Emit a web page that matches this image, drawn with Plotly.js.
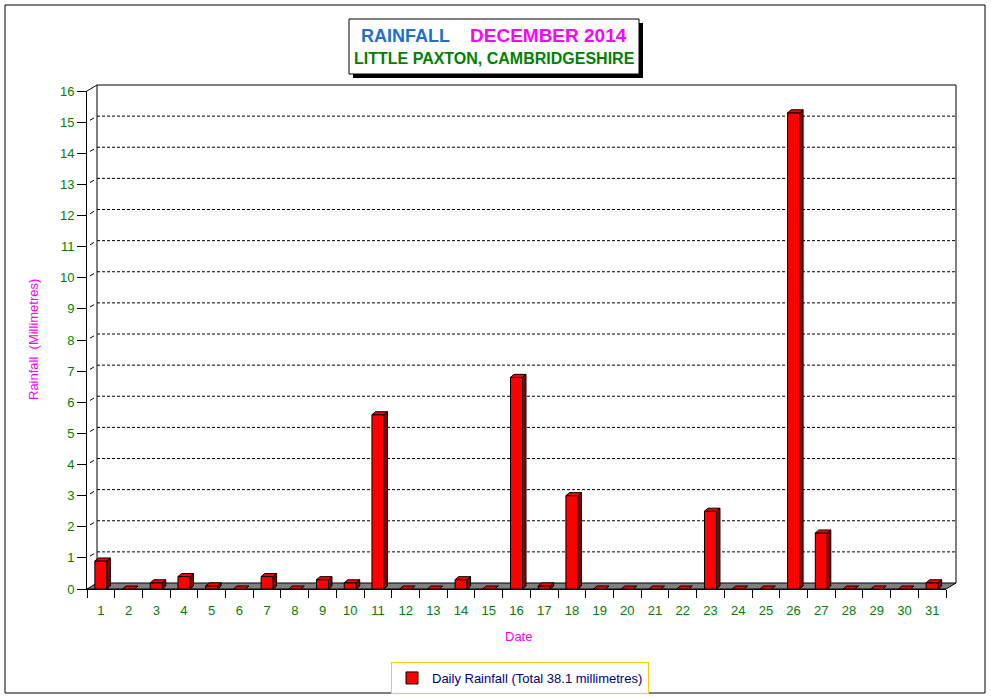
<!DOCTYPE html>
<html><head><meta charset="utf-8">
<script src="https://cdn.plot.ly/plotly-3.0.1.min.js"></script>
<style>html,body{margin:0;padding:0;background:#fff;overflow:hidden}</style>
</head><body><div id="chart" style="width:991px;height:698px"></div>
<script>
// ---- data ----
const days = [1,2,3,4,5,6,7,8,9,10,11,12,13,14,15,16,17,18,19,20,21,22,23,24,25,26,27,28,29,30,31];
const rainfall = [0.9,0,0.2,0.4,0.1,0,0.4,0,0.3,0.2,5.6,0,0,0.3,0,6.8,0.1,3.0,0,0,0,0,2.5,0,0,15.3,1.8,0,0,0,0.2];
const yTicks = [0,1,2,3,4,5,6,7,8,9,10,11,12,13,14,15,16];
const dayLabels = days.map(String);

// ---- geometry (pixels) ----
const W = 991, H = 698, L = 87, R = 946, T = 91, B = 589;
const PW = R - L, PH = B - T;
const xMin = 0.5, xMax = 31.5, yMax = 16;
const pxPerX = PW / (xMax - xMin), pxPerY = PH / yMax;
const DX = 10, DY = 6;          // wall depth
const BW = 12, BDX = 3.5, BDY = 3; // bar width and depth
const px2x = p => (p - L) / PW;
const px2y = p => (B - p) / PH;
const FONT = 'Liberation Sans, Arial, sans-serif';

const total = rainfall.reduce((a, b) => a + b, 0);

const shapes = [];
// outer border
shapes.push({type:'rect', xref:'paper', yref:'paper', x0:px2x(5), x1:px2x(985), y0:px2y(693), y1:px2y(5),
  line:{color:'#000', width:1}, layer:'below'});
// title box with shadow
shapes.push({type:'rect', xref:'paper', yref:'paper', x0:px2x(353), x1:px2x(643), y0:px2y(78), y1:px2y(23),
  line:{width:0}, fillcolor:'#000', layer:'below'});
shapes.push({type:'rect', xref:'paper', yref:'paper', x0:px2x(349), x1:px2x(639), y0:px2y(74), y1:px2y(19),
  line:{color:'#000', width:1}, fillcolor:'#fff', layer:'below'});
// back-wall gridlines (dashed)
yTicks.forEach(v => {
  if (v === 0 || v === yMax) return;
  const yy = v / yMax + DY / PH;
  shapes.push({type:'line', xref:'paper', yref:'paper', x0:px2x(L + DX), x1:px2x(R + DX), y0:yy, y1:yy,
    line:{color:'#000', width:1, dash:'3px,2px'}, layer:'below'});
  const y0 = v / yMax;
  shapes.push({type:'line', xref:'paper', yref:'paper', x0:px2x(L + 3), x1:px2x(L + 7), y0:y0 + 1.8/PH, y1:y0 + 4.2/PH,
    line:{color:'#000', width:1}, layer:'below'});
});
// wall frame
const wallPath = `M${px2x(L)},${px2y(T)} L${px2x(L+DX)},${px2y(T-DY)} L${px2x(R+DX)},${px2y(T-DY)} L${px2x(R+DX)},${px2y(B-DY)}` +
  ` M${px2x(L+DX)},${px2y(T-DY)} L${px2x(L+DX)},${px2y(B-DY)}`;
shapes.push({type:'path', xref:'paper', yref:'paper', path:wallPath, line:{color:'#000', width:1}, layer:'below'});
// floor
const floorPath = `M${px2x(L)},${px2y(B)} L${px2x(R)},${px2y(B)} L${px2x(R+DX)},${px2y(B-DY)} L${px2x(L+DX)},${px2y(B-DY)} Z`;
shapes.push({type:'path', xref:'paper', yref:'paper', path:floorPath, fillcolor:'#808080', line:{color:'#000', width:1}, layer:'below'});

// 3D faces of bars (from data)
const bw = BW / pxPerX, dx = BDX / pxPerX, dy = BDY / pxPerY;
days.forEach((d, i) => {
  const v = rainfall[i];
  const x0 = d - bw / 2, x1 = d + bw / 2;
  if (v > 0) {
    shapes.push({type:'path', xref:'x', yref:'y',
      path:`M${x1},0 L${x1+dx},${dy} L${x1+dx},${v+dy} L${x1},${v} Z`,
      fillcolor:'#8B0000', line:{color:'#000', width:1}, layer:'above'});
  }
  shapes.push({type:'path', xref:'x', yref:'y',
    path:`M${x0},${v} L${x1},${v} L${x1+dx},${v+dy} L${x0+dx},${v+dy} Z`,
    fillcolor:'#FF0000', line:{color:'#000', width:1}, layer:'above'});
});

const data = [{
  type:'bar', x:days, y:rainfall, width:bw,
  marker:{color:'#FF0000', line:{color:'#000', width:1}},
  name:'Daily Rainfall (Total ' + total.toFixed(1) + ' millimetres)',
  showlegend:true, hoverinfo:'skip'
}];

const layout = {
  width:W, height:H,
  margin:{l:L, r:W - R, t:T, b:H - B, pad:0, autoexpand:false},
  paper_bgcolor:'#fff', plot_bgcolor:'rgba(0,0,0,0)',
  font:{family:FONT, size:13, color:'#008000'},
  showlegend:true,
  legend:{x:px2x(520), xanchor:'center', y:px2y(662), yanchor:'top', orientation:'h',
    bgcolor:'#fff', bordercolor:'#FFCC00', borderwidth:1,
    font:{family:FONT, size:13, color:'#000080'}},
  xaxis:{range:[xMin, xMax], tickmode:'array', tickvals:days, ticktext:dayLabels,
    ticks:'', showgrid:false, zeroline:false, showline:true, linecolor:'#000', linewidth:1,
    ticklabelstandoff:9,
    tickfont:{family:FONT, size:13, color:'#008000'},
    minor:{tickmode:'linear', tick0:0.5, dtick:1, ticks:'outside', ticklen:8, tickcolor:'#000', tickwidth:1, showgrid:false},
    fixedrange:true},
  yaxis:{range:[0, yMax], tickmode:'array', tickvals:yTicks, ticks:'outside', ticklen:9, tickcolor:'#000',
    showgrid:false, zeroline:false, showline:true, linecolor:'#000', linewidth:1,
    tickfont:{family:FONT, size:13, color:'#008000'}, fixedrange:true},
  shapes:shapes,
  annotations:[
    {xref:'paper', yref:'paper', x:px2x(494), y:px2y(36), xanchor:'center', yanchor:'middle', showarrow:false,
      text:'<b><span style="color:#1F6FCF">RAINFALL</span>\u00a0\u00a0\u00a0\u00a0<span style="color:#FF00FF;font-size:19px">DECEMBER 2014</span></b>',
      font:{family:FONT, size:18}},
    {xref:'paper', yref:'paper', x:px2x(494), y:px2y(58), xanchor:'center', yanchor:'middle', showarrow:false,
      text:'<b>LITTLE PAXTON, CAMBRIDGESHIRE</b>', font:{family:FONT, size:16, color:'#008000'}},
    {xref:'paper', yref:'paper', x:px2x(33), y:px2y(340), xanchor:'center', yanchor:'middle', showarrow:false,
      textangle:-90, text:'Rainfall\u00a0\u00a0(Millimetres)', font:{family:FONT, size:13, color:'#FF00FF'}},
    {xref:'paper', yref:'paper', x:px2x(518), y:px2y(636), xanchor:'center', yanchor:'middle', showarrow:false,
      text:'Date', font:{family:FONT, size:13, color:'#FF00FF'}}
  ],
  hovermode:false
};

Plotly.newPlot('chart', data, layout, {displayModeBar:false, staticPlot:true});
</script>
</body></html>
